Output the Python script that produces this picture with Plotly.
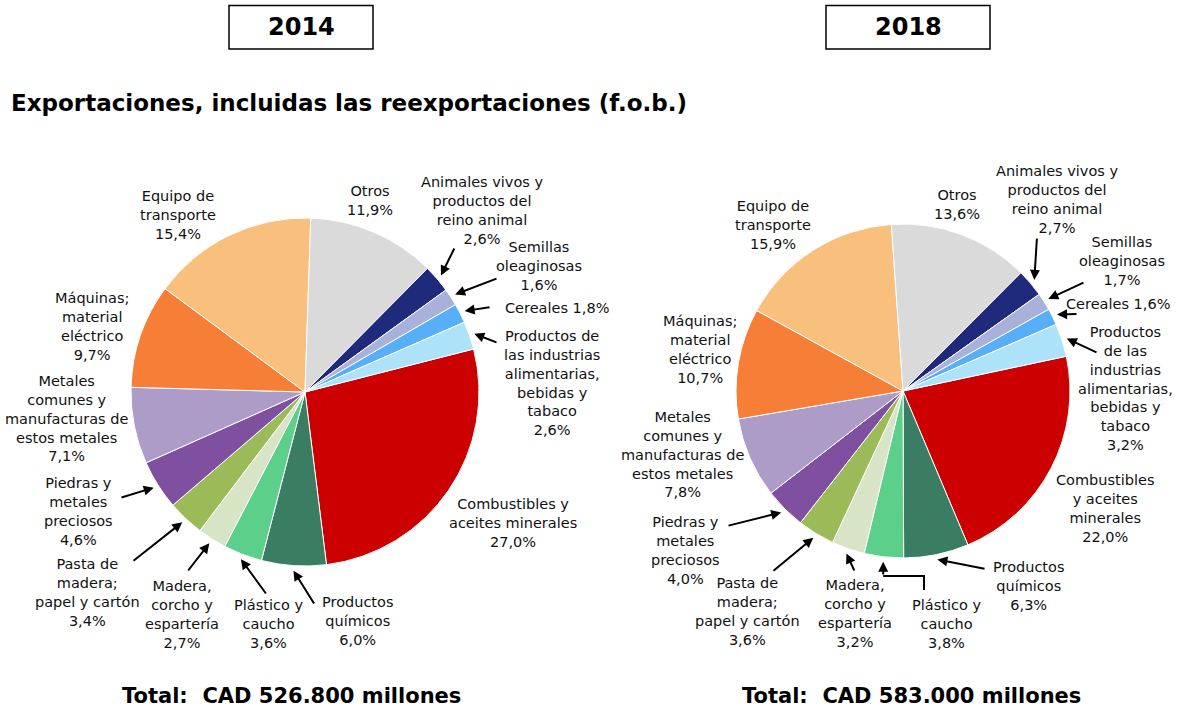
import math
import plotly.graph_objects as go

W, H = 1181, 709

# slices, clockwise from "Combustibles"
categories = [
    "Combustibles y aceites minerales", "Productos químicos", "Plástico y caucho",
    "Madera, corcho y espartería", "Pasta de madera; papel y cartón",
    "Piedras y metales preciosos", "Metales comunes y manufacturas de estos metales",
    "Máquinas; material eléctrico", "Equipo de transporte", "Otros",
    "Animales vivos y productos del reino animal", "Semillas oleaginosas", "Cereales",
    "Productos de las industrias alimentarias, bebidas y tabaco",
]
values_2014 = [27.0, 6.0, 3.6, 2.7, 3.4, 4.6, 7.1, 9.7, 15.4, 11.9, 2.6, 1.6, 1.8, 2.6]
values_2018 = [22.0, 6.3, 3.8, 3.2, 3.6, 4.0, 7.8, 10.7, 15.9, 13.6, 2.7, 1.7, 1.6, 3.2]

# label wording as broken in each chart
names_2014 = [
    "Combustibles y<br>aceites minerales", "Productos<br>químicos", "Plástico y<br>caucho",
    "Madera,<br>corcho y<br>espartería", "Pasta de<br>madera;<br>papel y cartón",
    "Piedras y<br>metales<br>preciosos", "Metales<br>comunes y<br>manufacturas de<br>estos metales",
    "Máquinas;<br>material<br>eléctrico", "Equipo de<br>transporte", "Otros",
    "Animales vivos y<br>productos del<br>reino animal", "Semillas<br>oleaginosas", "Cereales",
    "Productos de<br>las industrias<br>alimentarias,<br>bebidas y<br>tabaco",
]
names_2018 = [
    "Combustibles<br>y aceites<br>minerales", "Productos<br>químicos", "Plástico y<br>caucho",
    "Madera,<br>corcho y<br>espartería", "Pasta de<br>madera;<br>papel y cartón",
    "Piedras y<br>metales<br>preciosos", "Metales<br>comunes y<br>manufacturas de<br>estos metales",
    "Máquinas;<br>material<br>eléctrico", "Equipo de<br>transporte", "Otros",
    "Animales vivos y<br>productos del<br>reino animal", "Semillas<br>oleaginosas", "Cereales",
    "Productos<br>de las<br>industrias<br>alimentarias,<br>bebidas y<br>tabaco",
]
years = ["2014", "2018"]
totals = ["Total:\u00a0 CAD 526.800 millones", "Total:\u00a0 CAD 583.000 millones"]

colors = ["#CC0000", "#3B7D63", "#5CD08B", "#D7E5C6", "#9BBB59", "#7F50A0", "#AE9CC8",
          "#F67E36", "#F9BF7D", "#DADADA", "#1F2A7C", "#A7B1DA", "#57AEF9", "#ADE2FB"]

FONT = "DejaVu Sans"
LBL = dict(family=FONT, size=14.5, color="#111111")

# pie geometry (pixels): centre, radius, start angle
pies = [
    dict(cx=305, cy=392, r=174, rot=75.7),
    dict(cx=903, cy=391, r=167, rot=78.0),
]

# label centres and arrow tails (pixels); tail None = no arrow
label_pos = [
    [  # 2014
        (513, 523, None), (358, 621, (315, 605)), (268, 624, (267, 595)),
        (182, 614, (187, 572)), (87, 592, (132, 562)), (78, 511, (120, 498)),
        (66, 418, None), (92, 327, None), (178, 215, None), (370, 200, None),
        (482, 210, (455, 247)), (539, 266, (498, 278)), (557, 308, (491, 307)),
        (552, 383, (498, 343)),
    ],
    [  # 2018
        (1105, 508, None), (1028, 586, (986, 569)), (946, 624, "elbow"),
        (855, 613, (855, 572)), (747, 611, (772, 572)), (685, 550, (727, 526)),
        (682, 454, None), (700, 349, None), (773, 225, None), (957, 204, None),
        (1057, 199, (1037, 237)), (1122, 261, (1085, 282)), (1118, 304, (1078, 314)),
        (1125, 388, (1098, 353)),
    ],
]


def px(x):
    return x / W


def py(y):
    return 1 - y / H


def fmt(v):
    return f"{v:.1f}".replace(".", ",") + "%"


fig = go.Figure()
annotations = []
shapes = []

for k, (vals, names) in enumerate([(values_2014, names_2014), (values_2018, names_2018)]):
    g = pies[k]
    fig.add_trace(go.Pie(
        labels=categories, values=vals, sort=False, direction="clockwise",
        rotation=g["rot"], textinfo="none", hoverinfo="label+percent",
        marker=dict(colors=colors, line=dict(color="white", width=1)),
        domain=dict(x=[px(g["cx"] - g["r"]), px(g["cx"] + g["r"])],
                    y=[py(g["cy"] + g["r"]), py(g["cy"] - g["r"])]),
        showlegend=False,
    ))

    total = sum(vals)
    cum = 0.0
    for i, v in enumerate(vals):
        ang = math.radians(g["rot"] + 360 * (cum + v / 2) / total)
        cum += v
        sep = " " if categories[i] == "Cereales" else "<br>"
        lx, ly, tail = label_pos[k][i]
        annotations.append(dict(
            text=names[i] + sep + fmt(v), x=px(lx), y=py(ly), xref="paper", yref="paper",
            xanchor="center", yanchor="middle", showarrow=False, font=LBL, align="center",
        ))
        if tail is None:
            continue
        hx = g["cx"] + (g["r"] + 5) * math.sin(ang)
        hy = g["cy"] - (g["r"] + 5) * math.cos(ang)
        if tail == "elbow":
            # bent connector: up from the label, across, then up into the slice
            sx, sy, cy_ = lx - 22, 590, 576
            shapes.append(dict(type="path", xref="paper", yref="paper",
                               path=f"M {px(sx)} {py(sy)} L {px(sx)} {py(cy_)} L {px(hx)} {py(cy_)}",
                               line=dict(color="black", width=2)))
            tail = (hx, cy_)
        annotations.append(dict(
            text="", x=px(hx), y=py(hy), xref="paper", yref="paper",
            ax=tail[0] - hx, ay=tail[1] - hy, axref="pixel", ayref="pixel",
            showarrow=True, arrowhead=2, arrowsize=1, arrowwidth=2, arrowcolor="black",
            standoff=0, startstandoff=0,
        ))

# year boxes
for (x0, x1), yr in zip([(229, 373), (826, 990)], years):
    shapes.append(dict(type="rect", xref="paper", yref="paper",
                       x0=px(x0), x1=px(x1), y0=py(49), y1=py(5.5),
                       line=dict(color="black", width=1.5)))
    annotations.append(dict(text=f"<b>{yr}</b>", x=px((x0 + x1) / 2), y=py(27),
                            xref="paper", yref="paper", showarrow=False,
                            xanchor="center", yanchor="middle",
                            font=dict(family=FONT, size=24, color="black")))

annotations.append(dict(text="<b>Exportaciones, incluidas las reexportaciones (f.o.b.)</b>",
                        x=px(9), y=py(103), xref="paper", yref="paper", showarrow=False,
                        xanchor="left", yanchor="middle",
                        font=dict(family=FONT, size=23, color="black")))

for cx, t in zip([291, 911], totals):
    annotations.append(dict(text=f"<b>{t}</b>", x=px(cx), y=py(696),
                            xref="paper", yref="paper", showarrow=False,
                            xanchor="center", yanchor="middle",
                            font=dict(family=FONT, size=21, color="black")))

fig.update_layout(
    width=W, height=H, margin=dict(l=0, r=0, t=0, b=0),
    paper_bgcolor="white", plot_bgcolor="white",
    annotations=annotations, shapes=shapes,
)

# drop the browser's default 8px body margin so the figure fills the window
fig.write_html("out.html", config={"displayModeBar": False},
               post_script="document.body.style.margin = '0';")
